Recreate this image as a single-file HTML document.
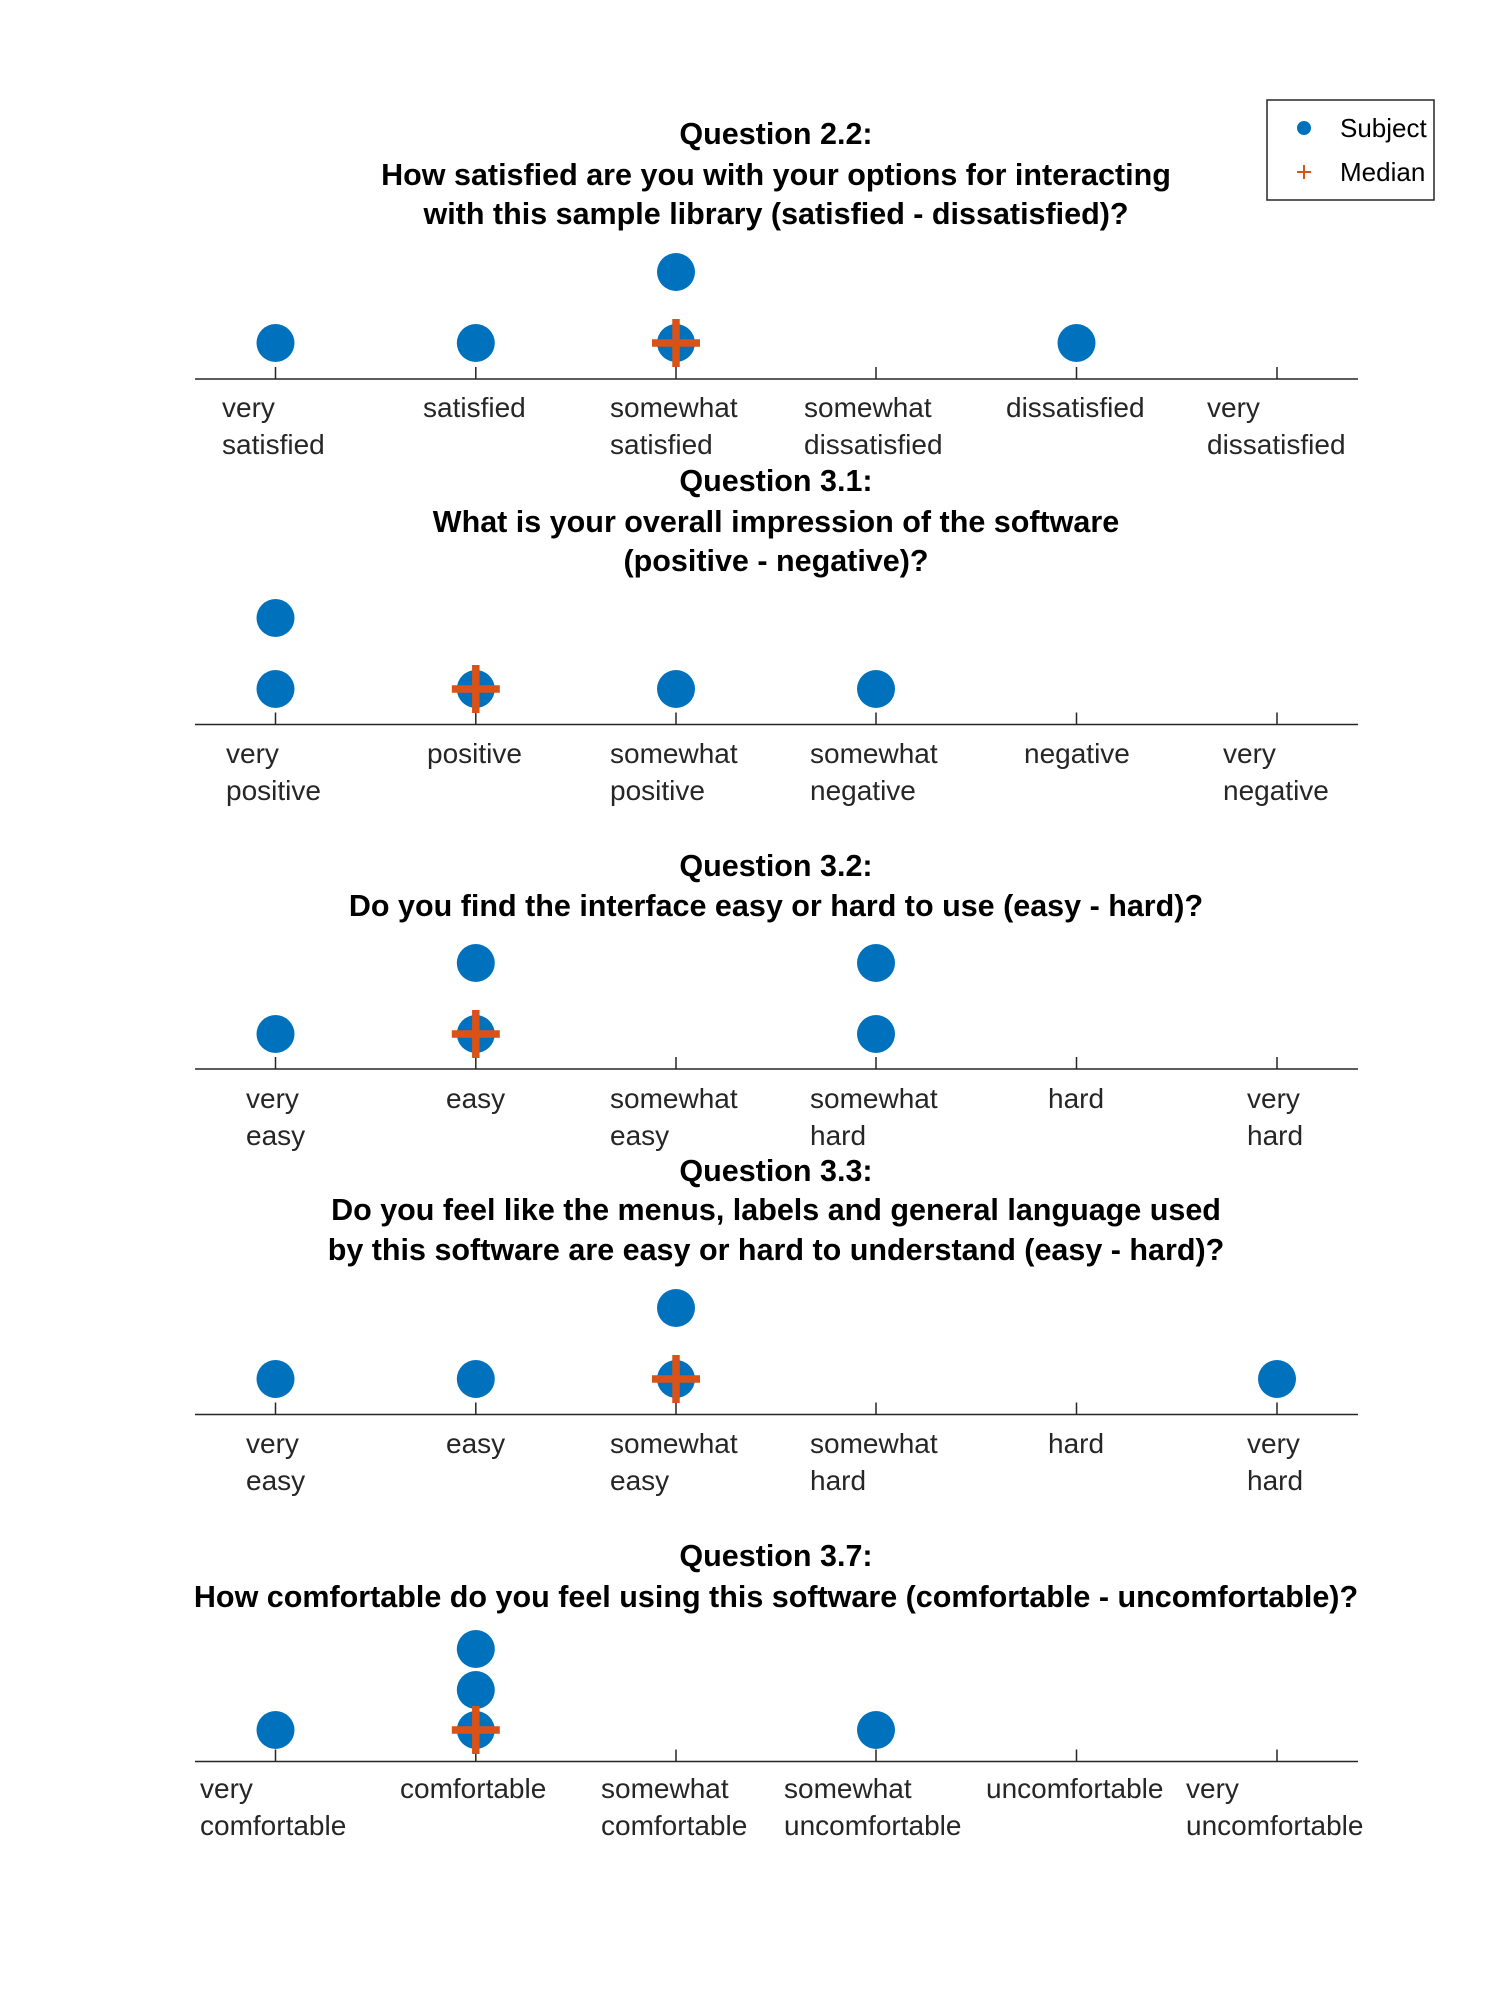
<!DOCTYPE html>
<html><head><meta charset="utf-8"><style>
html,body{margin:0;padding:0;background:#fff;width:1500px;height:2000px;overflow:hidden}
svg text{font-family:"Liberation Sans",Arial,sans-serif}
.t{font-size:30.5px;font-weight:bold;fill:#000;text-anchor:middle}
.l{font-size:28px;fill:#262626}
.lg{font-size:26px;fill:#000}
.ax{stroke:#262626;stroke-width:1.5}
.d{fill:#0072BD}
.m{stroke:#D95319;stroke-width:7.5}
</style></head><body>
<svg width="1500" height="2000" viewBox="0 0 1500 2000" xmlns="http://www.w3.org/2000/svg">
<!-- Legend -->
<rect x="1267" y="100" width="167" height="100" fill="#fff" stroke="#262626" stroke-width="1.5"/>
<circle cx="1304" cy="128" r="7" class="d"/>
<text x="1340" y="137" class="lg">Subject</text>
<path d="M1297 172h14M1304 165v14" stroke="#D95319" stroke-width="2"/>
<text x="1340" y="181" class="lg">Median</text>

<!-- Panel 1 -->
<text x="776" y="144" class="t">Question 2.2:</text>
<text x="776" y="185" class="t">How satisfied are you with your options for interacting</text>
<text x="776" y="224" class="t">with this sample library (satisfied - dissatisfied)?</text>
<g class="ax"><path d="M195 379H1358M275.5 379v-12M475.8 379v-12M676 379v-12M876 379v-12M1076.5 379v-12M1277 379v-12"/></g>
<circle cx="275.5" cy="343" r="19" class="d"/><circle cx="475.8" cy="343" r="19" class="d"/><circle cx="676" cy="343" r="19" class="d"/><circle cx="676" cy="272" r="19" class="d"/><circle cx="1076.5" cy="343" r="19" class="d"/>
<path d="M652 343h48M676 319v48" class="m"/>
<g class="l"><text x="222" y="417">very</text><text x="222" y="454">satisfied</text><text x="423" y="417">satisfied</text><text x="610" y="417">somewhat</text><text x="610" y="454">satisfied</text><text x="804" y="417">somewhat</text><text x="804" y="454">dissatisfied</text><text x="1006" y="417">dissatisfied</text><text x="1207" y="417">very</text><text x="1207" y="454">dissatisfied</text></g>

<!-- Panel 2 -->
<text x="776" y="491" class="t">Question 3.1:</text>
<text x="776" y="532" class="t">What is your overall impression of the software</text>
<text x="776" y="571" class="t">(positive - negative)?</text>
<g class="ax"><path d="M195 724.5H1358M275.5 724.5v-12M475.8 724.5v-12M676 724.5v-12M876 724.5v-12M1076.5 724.5v-12M1277 724.5v-12"/></g>
<circle cx="275.5" cy="689" r="19" class="d"/><circle cx="275.5" cy="618" r="19" class="d"/><circle cx="475.8" cy="689" r="19" class="d"/><circle cx="676" cy="689" r="19" class="d"/><circle cx="876" cy="689" r="19" class="d"/>
<path d="M451.8 689h48M475.8 665v48" class="m"/>
<g class="l"><text x="226" y="763">very</text><text x="226" y="800">positive</text><text x="427" y="763">positive</text><text x="610" y="763">somewhat</text><text x="610" y="800">positive</text><text x="810" y="763">somewhat</text><text x="810" y="800">negative</text><text x="1024" y="763">negative</text><text x="1223" y="763">very</text><text x="1223" y="800">negative</text></g>

<!-- Panel 3 -->
<text x="776" y="876" class="t">Question 3.2:</text>
<text x="776" y="916" class="t">Do you find the interface easy or hard to use (easy - hard)?</text>
<g class="ax"><path d="M195 1069H1358M275.5 1069v-12M475.8 1069v-12M676 1069v-12M876 1069v-12M1076.5 1069v-12M1277 1069v-12"/></g>
<circle cx="275.5" cy="1034" r="19" class="d"/><circle cx="475.8" cy="1034" r="19" class="d"/><circle cx="475.8" cy="963" r="19" class="d"/><circle cx="876" cy="1034" r="19" class="d"/><circle cx="876" cy="963" r="19" class="d"/>
<path d="M451.8 1034h48M475.8 1010v48" class="m"/>
<g class="l"><text x="246" y="1108">very</text><text x="246" y="1145">easy</text><text x="446" y="1108">easy</text><text x="610" y="1108">somewhat</text><text x="610" y="1145">easy</text><text x="810" y="1108">somewhat</text><text x="810" y="1145">hard</text><text x="1048" y="1108">hard</text><text x="1247" y="1108">very</text><text x="1247" y="1145">hard</text></g>

<!-- Panel 4 -->
<text x="776" y="1181" class="t">Question 3.3:</text>
<text x="776" y="1220" class="t">Do you feel like the menus, labels and general language used</text>
<text x="776" y="1260" class="t">by this software are easy or hard to understand (easy - hard)?</text>
<g class="ax"><path d="M195 1414.5H1358M275.5 1414.5v-12M475.8 1414.5v-12M676 1414.5v-12M876 1414.5v-12M1076.5 1414.5v-12M1277 1414.5v-12"/></g>
<circle cx="275.5" cy="1379" r="19" class="d"/><circle cx="475.8" cy="1379" r="19" class="d"/><circle cx="676" cy="1379" r="19" class="d"/><circle cx="676" cy="1308" r="19" class="d"/><circle cx="1277" cy="1379" r="19" class="d"/>
<path d="M652 1379h48M676 1355v48" class="m"/>
<g class="l"><text x="246" y="1453">very</text><text x="246" y="1490">easy</text><text x="446" y="1453">easy</text><text x="610" y="1453">somewhat</text><text x="610" y="1490">easy</text><text x="810" y="1453">somewhat</text><text x="810" y="1490">hard</text><text x="1048" y="1453">hard</text><text x="1247" y="1453">very</text><text x="1247" y="1490">hard</text></g>

<!-- Panel 5 -->
<text x="776" y="1566" class="t">Question 3.7:</text>
<text x="776" y="1607" class="t">How comfortable do you feel using this software (comfortable - uncomfortable)?</text>
<g class="ax"><path d="M195 1761.5H1358M275.5 1761.5v-12M475.8 1761.5v-12M676 1761.5v-12M876 1761.5v-12M1076.5 1761.5v-12M1277 1761.5v-12"/></g>
<circle cx="275.5" cy="1730" r="19" class="d"/><circle cx="475.8" cy="1730" r="19" class="d"/><circle cx="475.8" cy="1690" r="19" class="d"/><circle cx="475.8" cy="1649" r="19" class="d"/><circle cx="876" cy="1730" r="19" class="d"/>
<path d="M451.8 1730h48M475.8 1706v48" class="m"/>
<g class="l"><text x="200" y="1798">very</text><text x="200" y="1835">comfortable</text><text x="400" y="1798">comfortable</text><text x="601" y="1798">somewhat</text><text x="601" y="1835">comfortable</text><text x="784" y="1798">somewhat</text><text x="784" y="1835">uncomfortable</text><text x="986" y="1798">uncomfortable</text><text x="1186" y="1798">very</text><text x="1186" y="1835">uncomfortable</text></g>
</svg>
</body></html>
